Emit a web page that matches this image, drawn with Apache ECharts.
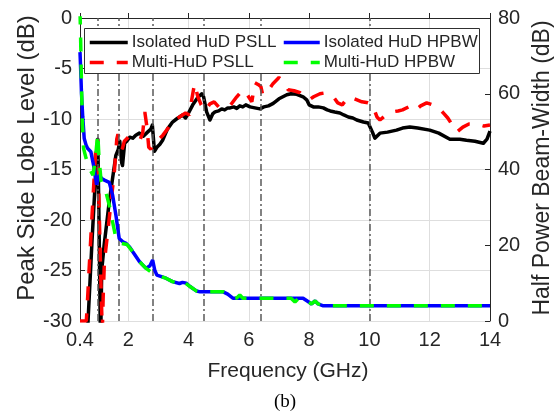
<!DOCTYPE html>
<html><head><meta charset="utf-8">
<script src="https://cdn.jsdelivr.net/npm/echarts@6/dist/echarts.min.js"></script>
<style>html,body{margin:0;padding:0;background:#fff}#c{width:560px;height:417px}</style>
</head><body><div id="c"></div>
<script>
// ---- data (frequency GHz, value) ----
const isoPsll = [[0.60,-34],[0.70,-28],[0.80,-22],[0.90,-16.5],[0.99,-12.0],[1.03,-20],[1.07,-30],[1.09,-31],[1.12,-25],[1.20,-22.5],[1.37,-18.2],[1.59,-13.6],[1.67,-13.0],[1.72,-12.2],[1.78,-14.3],[1.81,-14.6],[1.88,-12.4],[1.95,-12.2],[2.05,-11.8],[2.15,-11.9],[2.25,-11.6],[2.37,-11.4],[2.50,-11.7],[2.64,-11.3],[2.75,-11.0],[2.80,-10.6],[2.87,-13.2],[2.95,-12.8],[3.05,-12.5],[3.14,-12.1],[3.30,-11.0],[3.47,-10.3],[3.60,-10.0],[3.80,-9.6],[3.90,-9.9],[4.00,-9.4],[4.14,-8.6],[4.30,-7.9],[4.44,-7.5],[4.50,-7.8],[4.60,-9.3],[4.71,-10.1],[4.80,-9.5],[4.88,-9.3],[5.00,-9.2],[5.10,-9.0],[5.20,-9.1],[5.30,-8.9],[5.38,-8.9],[5.50,-8.8],[5.60,-8.95],[5.70,-8.7],[5.80,-8.8],[5.90,-8.6],[6.04,-8.8],[6.20,-8.9],[6.37,-9.0],[6.50,-8.8],[6.65,-8.7],[6.81,-8.45],[7.00,-8.0],[7.26,-7.6],[7.40,-7.5],[7.59,-7.55],[7.80,-7.8],[7.92,-8.1],[8.00,-8.6],[8.14,-8.8],[8.30,-8.8],[8.47,-8.9],[8.60,-9.1],[8.70,-9.2],[8.85,-9.3],[9.02,-9.4],[9.15,-9.6],[9.30,-9.8],[9.45,-9.9],[9.58,-10.1],[9.80,-10.3],[9.96,-10.4],[10.10,-11.3],[10.18,-11.9],[10.35,-11.4],[10.60,-11.3],[10.90,-11.1],[11.10,-10.9],[11.34,-10.8],[11.60,-10.9],[12.00,-11.1],[12.30,-11.4],[12.67,-12.0],[13.00,-12.0],[13.22,-12.1],[13.50,-12.2],[13.78,-12.4],[13.90,-12.0],[14.00,-11.2]];
const multiPsll = [[0.40,-30],[0.61,-30],[0.64,-28.5],[0.70,-25],[0.80,-19.5],[0.93,-12.6],[0.98,-12.0],[1.04,-19.5],[1.10,-27],[1.14,-31],[1.17,-27.5],[1.21,-24.1],[1.32,-21.2],[1.43,-18.2],[1.54,-15.2],[1.62,-12.0],[1.66,-11.5],[1.72,-12.2],[1.80,-13.0],[1.87,-12.2],[2.00,-11.8],[2.15,-11.8],[2.30,-11.8],[2.40,-12.0],[2.48,-11.4],[2.55,-9.3],[2.62,-10.8],[2.68,-12.8],[2.75,-13.0],[2.85,-12.4],[2.95,-12.1],[3.05,-11.9],[3.15,-11.6],[3.30,-11.0],[3.50,-10.1],[3.70,-9.8],[3.90,-9.4],[4.03,-9.6],[4.10,-8.2],[4.20,-6.5],[4.31,-7.8],[4.42,-8.6],[4.55,-9.2],[4.71,-8.5],[4.85,-8.3],[5.00,-8.8],[5.20,-8.9],[5.40,-8.6],[5.60,-7.8],[5.80,-7.1],[5.95,-7.6],[6.10,-8.3],[6.20,-6.4],[6.32,-6.6],[6.40,-6.8],[6.46,-7.6],[6.60,-7.4],[6.80,-6.5],[7.00,-5.9],[7.15,-6.3],[7.30,-7.1],[7.50,-7.2],[7.70,-7.4],[7.85,-7.8],[8.00,-8.1],[8.15,-7.8],[8.36,-7.5],[8.55,-7.4],[8.80,-7.8],[8.95,-8.4],[9.10,-8.6],[9.30,-7.8],[9.50,-8.0],[9.75,-8.3],[9.95,-8.4],[10.10,-8.6],[10.25,-9.8],[10.35,-10.1],[10.55,-9.6],[10.75,-9.3],[10.95,-9.2],[11.10,-9.1],[11.30,-8.8],[11.50,-9.2],[11.70,-8.7],[11.90,-8.4],[12.10,-8.6],[12.30,-8.9],[12.45,-9.4],[12.60,-9.9],[12.90,-11.3],[13.10,-10.8],[13.30,-10.5],[13.55,-10.5],[13.80,-10.7],[14.00,-10.6]];
const isoHpbw = [[0.40,71],[0.42,67],[0.45,60],[0.49,54],[0.54,48.2],[0.60,46.5],[0.65,45.6],[0.76,44.7],[0.87,40.3],[0.95,36.0],[1.00,37.5],[1.04,38.5],[1.12,37.6],[1.21,37.2],[1.37,36.6],[1.48,33.3],[1.59,28.0],[1.70,21.8],[1.82,20.9],[1.93,20.5],[2.05,19.5],[2.15,18.3],[2.37,15.7],[2.59,13.9],[2.72,14.6],[2.81,16.1],[2.88,13.4],[2.95,12.1],[3.10,11.7],[3.25,11.3],[3.47,10.4],[3.70,9.9],[3.80,10.2],[3.92,10.0],[4.05,9.1],[4.27,7.9],[4.38,7.7],[5.15,7.7],[5.30,7.1],[5.48,6.0],[7.80,6.0],[7.95,5.2],[8.08,4.5],[8.20,5.3],[8.30,4.5],[8.47,4.0],[14.00,4.0]];
const multiHpbw = [[0.40,82],[0.42,75],[0.45,62],[0.48,52],[0.52,45.5],[0.60,43],[0.70,40.5],[0.83,38.5],[0.90,42],[0.99,49.5],[1.03,43],[1.10,37],[1.26,34],[1.37,30.6],[1.48,26.2],[1.60,21.5],[1.70,20.6],[1.96,20.2],[2.15,18.3],[2.37,15.7],[2.59,13.9],[2.75,13.0],[2.92,12.1],[3.10,11.7],[3.25,11.3],[3.47,10.4],[3.65,10.0],[3.77,10.7],[3.90,10.0],[4.05,9.1],[4.27,7.9],[4.38,7.7],[5.15,7.7],[5.30,7.1],[5.48,6.0],[5.60,6.1],[5.70,6.9],[5.80,6.0],[7.40,6.0],[7.53,5.0],[7.65,6.0],[7.80,6.0],[7.95,5.2],[8.08,4.5],[8.20,5.3],[8.30,4.5],[8.47,4.0],[14.00,4.0]];
const markerFreqs = [1.0, 1.7, 2.8, 4.5, 6.4, 10];
const xTicks = [0.4, 2, 4, 6, 8, 10, 12, 14];
const seriesNames = ['Isolated HuD PSLL', 'Multi-HuD PSLL', 'Isolated HuD HPBW', 'Multi-HuD HPBW'];

const FONT = '"Liberation Sans", Arial, Helvetica, sans-serif';
const AX = '#262626';
const chart = echarts.init(document.getElementById('c'), null, {renderer: 'canvas'});
const legendCommon = {
  orient: 'vertical', top: 34, padding: 0, itemHeight: 14, itemGap: 3, z: 20, selectedMode: false,
  itemStyle: {opacity: 0},
  lineStyle: {width: 3.5},
  textStyle: {color: AX, fontFamily: FONT, fontSize: 17, padding: [0, 0, 0, -1]}
};
chart.setOption({
  animation: false,
  backgroundColor: '#fff',
  grid: {left: 80, right: 70, top: 18, bottom: 96, containLabel: false},
  xAxis: {
    type: 'value', min: 0.4, max: 14,
    axisLine: {show: true, lineStyle: {color: AX, width: 1}},
    axisTick: {show: true, inside: true, length: 5, customValues: xTicks, lineStyle: {color: AX}},
    axisLabel: {customValues: xTicks, color: AX, fontFamily: FONT, fontSize: 20, margin: 9},
    splitLine: {show: true, lineStyle: {color: '#dedede', width: 1}}
  },
  yAxis: [{
    type: 'value', min: -30, max: 0, interval: 5, position: 'left',
    axisLine: {show: true, onZero: false, lineStyle: {color: AX, width: 1}},
    axisTick: {show: true, inside: true, length: 5, lineStyle: {color: AX}},
    axisLabel: {color: AX, fontFamily: FONT, fontSize: 20, margin: 8},
    splitLine: {show: true, lineStyle: {color: '#dedede', width: 1}}
  }, {
    type: 'value', min: 0, max: 80, interval: 20, position: 'right',
    axisLine: {show: true, onZero: false, lineStyle: {color: AX, width: 1}},
    axisTick: {show: true, inside: true, length: 5, lineStyle: {color: AX}},
    axisLabel: {color: AX, fontFamily: FONT, fontSize: 20, margin: 8},
    splitLine: {show: false}
  }],
  legend: [
    Object.assign({}, legendCommon, {data: [seriesNames[0], seriesNames[1]], left: 88, itemWidth: 38}),
    Object.assign({}, legendCommon, {data: [seriesNames[2], seriesNames[3]], left: 282, itemWidth: 36})
  ],
  graphic: [
    {type: 'rect', z: 15, shape: {x: 84.5, y: 28.5, width: 395, height: 45},
     style: {fill: '#fff', stroke: '#303030', lineWidth: 1}},
    {type: 'text', z: 15, x: 27, y: 158, rotation: Math.PI / 2,
     style: {text: 'Peak Side Lobe Level (dB)', font: '24px ' + FONT, fill: AX, align: 'center', verticalAlign: 'middle'}},
    {type: 'text', z: 15, x: 543, y: 168, rotation: Math.PI / 2,
     style: {text: 'Half Power Beam-Width (dB)', font: '23px ' + FONT, fill: AX, align: 'center', verticalAlign: 'middle'}},
    {type: 'text', z: 15, x: 288, y: 371,
     style: {text: 'Frequency (GHz)', font: '21px ' + FONT, fill: AX, align: 'center', verticalAlign: 'middle'}},
    {type: 'text', z: 15, x: 285, y: 402,
     style: {text: '(b)', font: '19px "Liberation Serif", "Times New Roman", serif', fill: '#000', align: 'center', verticalAlign: 'middle'}}
  ],
  series: [
    {type: 'line', name: 'markers', data: [], silent: true, z: 1,
     markLine: {silent: true, symbol: ['none', 'none'], label: {show: false},
       lineStyle: {type: [7, 3, 2, 3], color: '#5a5a5a', width: 1.5},
       emphasis: {disabled: true},
       data: markerFreqs.map(v => ({xAxis: v}))}},
    {type: 'line', name: seriesNames[0], yAxisIndex: 0, data: isoPsll, symbol: 'none', z: 3,
     lineStyle: {color: '#000', width: 3.5, join: 'round'}, itemStyle: {color: '#000'}},
    {type: 'line', name: seriesNames[1], yAxisIndex: 0, data: multiPsll, symbol: 'none', z: 4,
     lineStyle: {color: '#ff0000', width: 3.5, type: [14, 13]}, itemStyle: {color: '#ff0000'}},
    {type: 'line', name: seriesNames[2], yAxisIndex: 1, data: isoHpbw, symbol: 'none', z: 5,
     lineStyle: {color: '#0000ff', width: 3.5}, itemStyle: {color: '#0000ff'}},
    {type: 'line', name: seriesNames[3], yAxisIndex: 1, data: multiHpbw, symbol: 'none', z: 6,
     lineStyle: {color: '#00ff00', width: 3.5, type: [14, 13]}, itemStyle: {color: '#00ff00'}}
  ]
});
</script></body></html>
